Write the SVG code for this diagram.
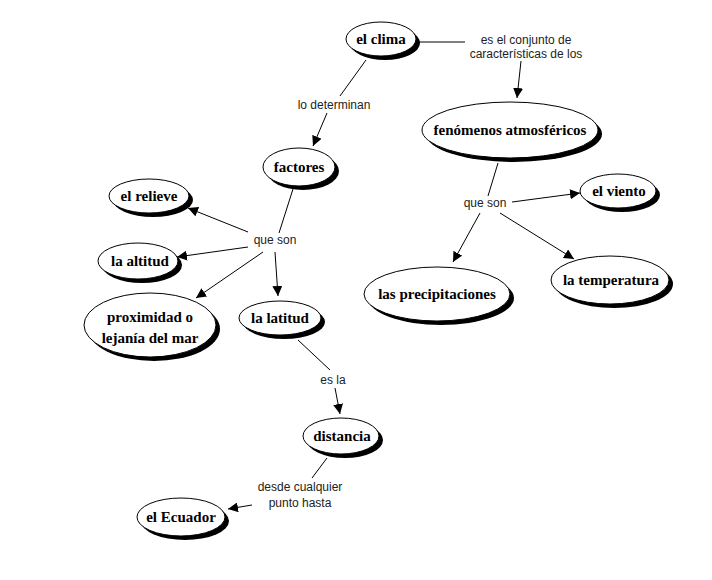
<svg xmlns="http://www.w3.org/2000/svg" width="712" height="580" viewBox="0 0 712 580">
<style>
.sh{fill:#000}
.nd{fill:#fff;stroke:#000;stroke-width:1}
.nt{font-family:"Liberation Serif",serif;font-weight:bold;font-size:15px;text-anchor:middle;fill:#000}
.lb{font-family:"Liberation Sans",sans-serif;font-size:12px;text-anchor:middle;fill:#222}
.cn{stroke:#000;stroke-width:1;fill:none}
</style>
<defs>
<marker id="ah" viewBox="0 0 10 10" refX="10" refY="5" markerWidth="10" markerHeight="10" markerUnits="userSpaceOnUse" orient="auto">
<path d="M0,0 L10,5 L0,10 z" fill="#000"/>
</marker>
</defs>
<rect width="712" height="580" fill="#fff"/>
<g id="connectors">
<line class="cn" x1="418" y1="42" x2="465" y2="42"/>
<line class="cn" x1="521" y1="61" x2="517" y2="98" marker-end="url(#ah)"/>
<line class="cn" x1="366" y1="60" x2="340" y2="96"/>
<line class="cn" x1="327" y1="113" x2="313" y2="146" marker-end="url(#ah)"/>
<line class="cn" x1="293" y1="189" x2="279" y2="233"/>
<line class="cn" x1="248" y1="232" x2="188" y2="208" marker-end="url(#ah)"/>
<line class="cn" x1="248" y1="247" x2="177" y2="257" marker-end="url(#ah)"/>
<line class="cn" x1="263" y1="252" x2="196" y2="298" marker-end="url(#ah)"/>
<line class="cn" x1="275" y1="252" x2="278" y2="296" marker-end="url(#ah)"/>
<line class="cn" x1="298" y1="340" x2="330" y2="370"/>
<line class="cn" x1="335" y1="388" x2="340" y2="414" marker-end="url(#ah)"/>
<line class="cn" x1="327" y1="458" x2="312" y2="478"/>
<line class="cn" x1="252" y1="505" x2="228" y2="509" marker-end="url(#ah)"/>
<line class="cn" x1="498" y1="163" x2="488" y2="196"/>
<line class="cn" x1="512" y1="202" x2="580" y2="193" marker-end="url(#ah)"/>
<line class="cn" x1="480" y1="213" x2="453" y2="262" marker-end="url(#ah)"/>
<line class="cn" x1="500" y1="213" x2="574" y2="259" marker-end="url(#ah)"/>
</g>
<g id="labels">
<text class="lb" x="526" y="44">es el conjunto de</text>
<text class="lb" x="526" y="58">características de los</text>
<text class="lb" x="334" y="109">lo determinan</text>
<text class="lb" x="275" y="244">que son</text>
<text class="lb" x="485" y="207">que son</text>
<text class="lb" x="333" y="384">es la</text>
<text class="lb" x="300" y="491">desde cualquier</text>
<text class="lb" x="300" y="507">punto hasta</text>
</g>
<g id="n-clima"><ellipse class="sh" cx="385" cy="43" rx="35" ry="17"/><ellipse class="nd" cx="381" cy="39" rx="35" ry="17"/><text class="nt" x="381" y="44">el clima</text></g>
<g id="n-fenomenos"><ellipse class="sh" cx="514" cy="134" rx="88" ry="28"/><ellipse class="nd" cx="510" cy="130" rx="88" ry="28"/><text class="nt" x="510" y="135">fenómenos atmosféricos</text></g>
<g id="n-factores"><ellipse class="sh" cx="303" cy="171" rx="36" ry="19"/><ellipse class="nd" cx="299" cy="167" rx="36" ry="19"/><text class="nt" x="299" y="172">factores</text></g>
<g id="n-relieve"><ellipse class="sh" cx="153" cy="200" rx="40" ry="17"/><ellipse class="nd" cx="149" cy="196" rx="40" ry="17"/><text class="nt" x="149" y="201">el relieve</text></g>
<g id="n-altitud"><ellipse class="sh" cx="142" cy="265" rx="40" ry="18"/><ellipse class="nd" cx="138" cy="261" rx="40" ry="18"/><text class="nt" x="140" y="266">la altitud</text></g>
<g id="n-proximidad"><ellipse class="sh" cx="154" cy="329" rx="66" ry="32"/><ellipse class="nd" cx="150" cy="325" rx="66" ry="32"/><text class="nt" x="150" y="322">proximidad o</text><text class="nt" x="150" y="343">lejanía del mar</text></g>
<g id="n-latitud"><ellipse class="sh" cx="284" cy="322" rx="41" ry="17"/><ellipse class="nd" cx="280" cy="318" rx="41" ry="17"/><text class="nt" x="280" y="323">la latitud</text></g>
<g id="n-viento"><ellipse class="sh" cx="622" cy="195" rx="38" ry="17"/><ellipse class="nd" cx="618" cy="191" rx="38" ry="17"/><text class="nt" x="619" y="196">el viento</text></g>
<g id="n-precipitaciones"><ellipse class="sh" cx="441" cy="298" rx="73" ry="27"/><ellipse class="nd" cx="437" cy="294" rx="73" ry="27"/><text class="nt" x="437" y="299">las precipitaciones</text></g>
<g id="n-temperatura"><ellipse class="sh" cx="614" cy="284" rx="59" ry="24"/><ellipse class="nd" cx="610" cy="280" rx="59" ry="24"/><text class="nt" x="611" y="285">la temperatura</text></g>
<g id="n-distancia"><ellipse class="sh" cx="345" cy="440" rx="38" ry="18"/><ellipse class="nd" cx="341" cy="436" rx="38" ry="18"/><text class="nt" x="342" y="441">distancia</text></g>
<g id="n-ecuador"><ellipse class="sh" cx="185" cy="521" rx="44" ry="19"/><ellipse class="nd" cx="181" cy="517" rx="44" ry="19"/><text class="nt" x="181" y="522">el Ecuador</text></g>
</svg>
